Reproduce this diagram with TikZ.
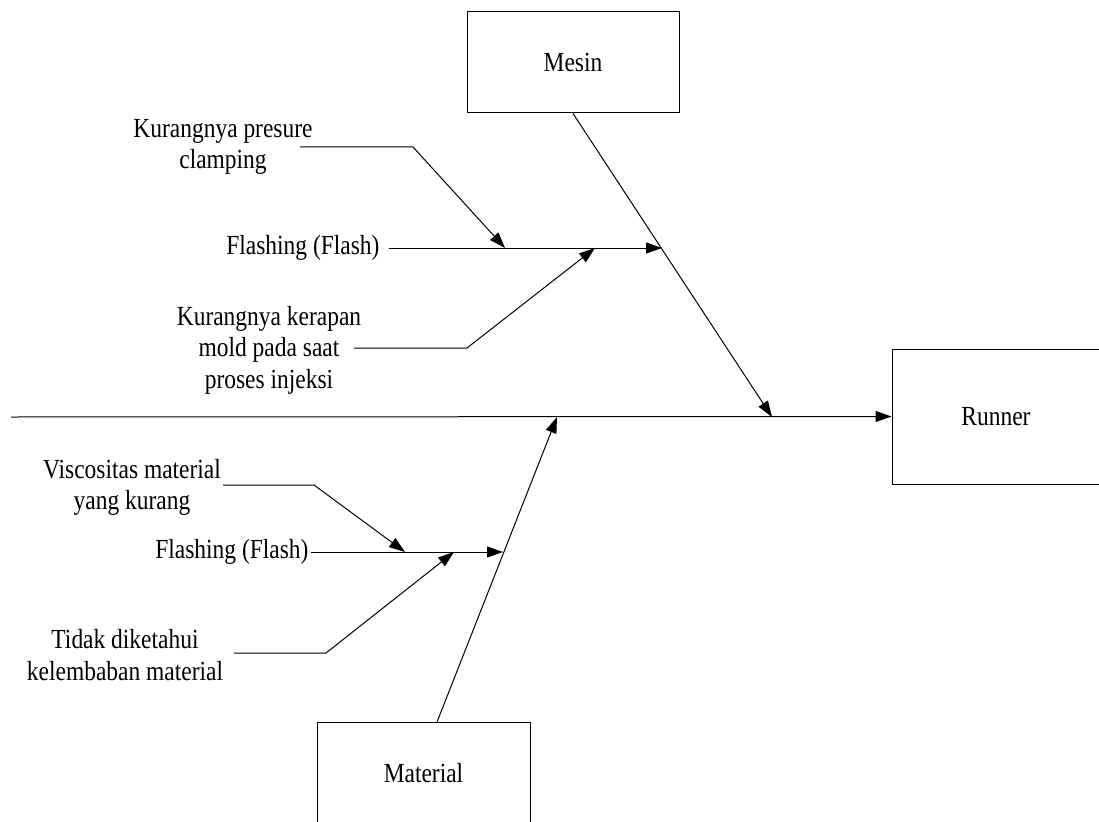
\documentclass[tikz,border=0pt]{standalone}
\usepackage{fontspec}
\setmainfont{Liberation Serif}
\newfontfamily\tallserif[FakeStretch=0.85]{Liberation Serif}
\usetikzlibrary{arrows.meta}
\begin{document}
\begin{tikzpicture}[x=1pt,y=-1pt,
  line width=1pt,
  txt/.style={inner sep=0pt, align=center, font=\tallserif\fontsize{27.6}{31.5}\selectfont},
  box/.style={draw, inner sep=0pt, font=\tallserif\fontsize{27.6}{31.5}\selectfont},
  arr/.style={-{Triangle[length=16pt,width=11pt]}}]
\useasboundingbox (0,0) rectangle (1099,821);
\clip (0,0) rectangle (1099,821);
% boxes
\node[box, minimum width=212pt, minimum height=101pt] (mesin) at (573,62.5) {Mesin};
\node[box, minimum width=208pt, minimum height=135pt] (runner) at (996,416.5) {Runner};
\node[box, minimum width=213pt, minimum height=102pt, anchor=north] (material) at (423.5,722) {Material};
% spine
\coordinate (spinestart) at (11,417);
\coordinate (mtip) at (772,417);
\coordinate (matip) at (557,417);
\coordinate (matstart) at (437,722);
\draw[arr] (spinestart) -- (runner.west);
\draw[arr] (mesin.south) -- (mtip);
\draw[arr] (matstart) -- (matip);
% upper branch
\node[txt, anchor=east] (fl1) at (380,248) {Flashing (Flash)};
\coordinate (fl1tip) at (662,248);
\draw[arr] ([xshift=9pt]fl1.east) -- (fl1tip);
\node[txt] (pres) at (223,147) {Kurangnya presure\\clamping};
\coordinate (pb1) at (300,147);
\coordinate (pb2) at (413,147);
\coordinate (ptip) at (505,248);
\draw[arr] (pb1) -- (pb2) -- (ptip);
\node[txt] (kerap) at (269,350) {Kurangnya kerapan\\mold pada saat\\proses injeksi};
\coordinate (kb1) at (354,348);
\coordinate (kb2) at (467,348);
\coordinate (ktip) at (595,248);
\draw[arr] (kb1) -- (kb2) -- (ktip);
% lower branch
\node[txt, anchor=east] (fl2) at (309,552) {Flashing (Flash)};
\coordinate (fl2tip) at (503,552);
\draw[arr] ([xshift=2pt]fl2.east) -- (fl2tip);
\node[txt] (visc) at (132,487.5) {Viscositas material\\yang kurang};
\coordinate (vb1) at (223,485);
\coordinate (vb2) at (314,485);
\coordinate (vtip) at (405,552);
\draw[arr] (vb1) -- (vb2) -- (vtip);
\node[txt] (tidak) at (125,655) {Tidak diketahui\\kelembaban material};
\coordinate (tb1) at (234,653);
\coordinate (tb2) at (326,653);
\coordinate (ttip) at (454,552);
\draw[arr] (tb1) -- (tb2) -- (ttip);
\end{tikzpicture}
\end{document}
